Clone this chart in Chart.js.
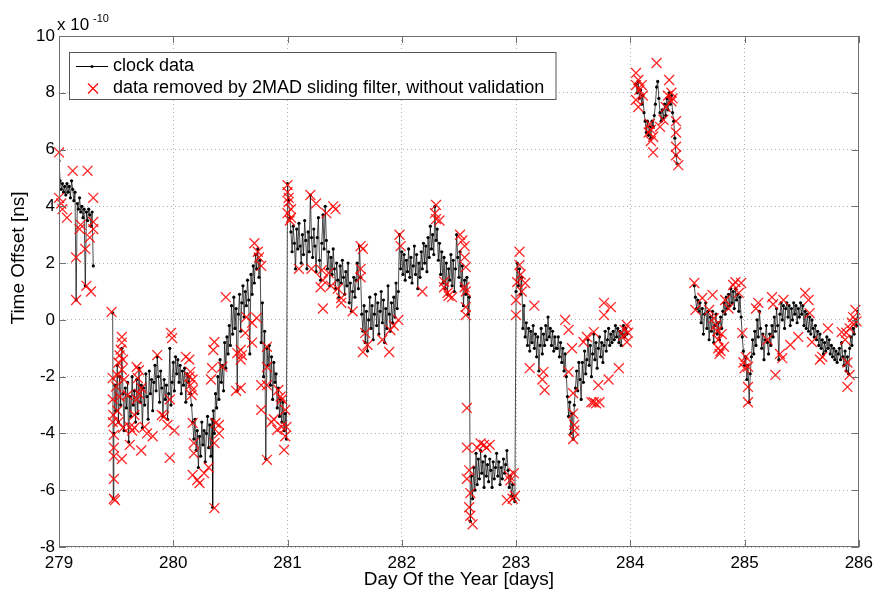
<!DOCTYPE html>
<html>
<head>
<meta charset="utf-8">
<script src="https://cdn.jsdelivr.net/npm/chart.js@4.4.1/dist/chart.umd.min.js"></script>
<style>
  body { margin: 0; background: #fff; }
  #wrap { width: 879px; height: 594px; }
</style>
</head>
<body>
<div id="wrap"><canvas id="clock-chart"></canvas></div>
<script>
const xTicks = [279, 280, 281, 282, 283, 284, 285, 286];
const yTicks = [-8, -6, -4, -2, 0, 2, 4, 6, 8, 10];

// clock data, [day, offset x 1e-10], one array per unbroken run of the line
const clockRun1 = [
  [279.00,5.6],[279.01,4.9],[279.02,4.6],[279.03,4.8],[279.04,4.5],[279.05,4.7],[279.06,4.4],[279.07,4.8],
  [279.08,4.5],[279.09,4.7],[279.10,4.3],[279.11,4.9],[279.12,4.6],[279.13,4.2],[279.14,4.5],[279.15,0.7],
  [279.16,4.1],[279.17,3.9],[279.18,4.3],[279.19,3.8],[279.20,4.0],[279.21,3.6],[279.22,3.9],[279.23,1.2],
  [279.24,3.8],[279.25,3.5],[279.26,3.9],[279.27,3.7],[279.28,3.3],[279.29,3.8],[279.30,1.9]
];
const clock279 = [
  [279.47,0.25],[279.475,-6.3],[279.48,-4.0],[279.49,-2.3],[279.50,-3.2],[279.51,-1.6],[279.52,-3.6],[279.53,-2.0],
  [279.54,-3.0],[279.55,-1.0],[279.56,-2.6],[279.57,-3.9],[279.58,-2.4],[279.59,-3.1],[279.60,-2.2],[279.61,-4.3],
  [279.62,-2.7],[279.63,-3.4],[279.64,-2.0],[279.65,-3.0],[279.66,-2.5],[279.67,-3.6],[279.68,-2.1],[279.69,-3.3],
  [279.70,-1.7],[279.71,-2.9],[279.72,-2.3],[279.73,-3.8],[279.74,-2.4],[279.75,-3.0],[279.76,-1.9],[279.77,-2.7],
  [279.78,-3.5],[279.79,-1.8],[279.80,-2.6],[279.81,-2.1],[279.82,-3.2],[279.83,-2.2],[279.84,-1.6],[279.85,-2.5],
  [279.86,-1.3],[279.87,-2.0],[279.88,-2.9],[279.89,-1.8],[279.90,-2.4],[279.91,-3.4],[279.92,-2.1],[279.93,-2.8],
  [279.94,-2.3],[279.95,-3.5],[279.96,-2.6],[279.97,-1.0],[279.98,-3.0],[279.99,-2.2]
];
const clock280 = [
  [280.00,-1.5],[280.01,-2.5],[280.02,-1.3],[280.03,-1.9],[280.04,-1.4],[280.05,-2.2],[280.06,-1.6],[280.07,-2.6],
  [280.08,-1.8],[280.09,-2.3],[280.10,-1.7],[280.11,-2.9],[280.12,-1.9],[280.13,-2.2],[280.14,-2.0],[280.15,-2.6],
  [280.16,-3.0],[280.17,-3.6],[280.18,-4.2],[280.19,-3.5],[280.20,-4.6],[280.21,-3.9],[280.22,-5.2],[280.23,-4.1],
  [280.24,-4.8],[280.25,-3.6],[280.26,-4.4],[280.27,-3.9],[280.28,-5.0],[280.29,-4.0],[280.30,-3.4],[280.31,-4.5],
  [280.32,-3.7],[280.33,-4.8],[280.34,-3.5],[280.345,-6.6],[280.35,-3.2],[280.36,-4.0],[280.37,-2.6],[280.38,-3.1],
  [280.39,-2.0],[280.40,-2.8],[280.41,-1.4],[280.42,-2.2],[280.43,-1.6],[280.44,-2.5],[280.45,-0.8],[280.46,-1.7],
  [280.47,-0.6],[280.48,-1.2],[280.49,-0.2],[280.50,-0.9],[280.51,0.5],[280.52,-0.5],[280.53,0.8],[280.54,-0.3],
  [280.55,0.4],[280.56,-2.5],[280.57,0.2],[280.58,0.9],[280.59,-0.4],[280.60,0.6],[280.61,1.2],[280.62,0.1],
  [280.63,1.0],[280.64,0.5],[280.65,1.4],[280.66,0.7],[280.67,-1.2],[280.68,1.6],[280.69,0.9],[280.70,1.9],
  [280.71,1.3],[280.72,2.3],[280.73,1.8],[280.74,2.5],[280.75,1.5],[280.76,2.1],[280.77,-0.8],[280.78,0.6],
  [280.79,-2.0],[280.80,-0.4],[280.81,-4.9],[280.82,-1.0],[280.83,-1.6],[280.84,-0.9],[280.85,-2.3],[280.86,-1.3],
  [280.87,-2.8],[280.88,-1.5],[280.89,-2.2],[280.90,-1.9],[280.91,-3.1],[280.92,-2.4],[280.93,-3.4],[280.94,-2.8],
  [280.95,-3.6],[280.96,-2.9],[280.97,-3.9],[280.98,-3.3],[280.99,-4.2]
];
const clock281 = [
  [281.00,4.8],[281.01,4.2],[281.02,3.6],[281.03,3.1],[281.04,2.4],[281.05,3.3],[281.06,2.7],[281.07,1.8],
  [281.08,3.2],[281.09,2.5],[281.10,3.4],[281.11,2.6],[281.12,2.0],[281.13,3.0],[281.14,2.3],[281.15,3.5],
  [281.16,2.8],[281.17,1.8],[281.18,3.1],[281.19,2.4],[281.20,4.4],[281.21,2.9],[281.22,2.2],[281.23,3.2],
  [281.24,2.6],[281.25,1.7],[281.26,2.9],[281.27,3.6],[281.28,2.1],[281.29,1.4],[281.30,2.7],[281.31,3.7],
  [281.32,2.5],[281.33,4.0],[281.34,2.8],[281.35,1.8],[281.36,2.4],[281.37,1.2],[281.38,2.2],[281.39,1.6],
  [281.40,2.5],[281.41,1.8],[281.42,1.1],[281.43,2.0],[281.44,1.4],[281.45,0.8],[281.46,1.9],[281.47,1.3],
  [281.48,2.1],[281.49,1.5],[281.50,0.9],[281.51,1.7],[281.52,1.2],[281.53,2.0],[281.54,0.6],[281.55,1.3],
  [281.56,0.3],[281.57,1.0],[281.58,1.5],[281.59,0.8],[281.60,1.4],[281.61,2.0],[281.62,1.1],[281.63,2.6],
  [281.64,1.5],[281.65,0.2],[281.66,-0.4],[281.67,0.5],[281.68,-0.8],[281.69,0.3],[281.70,-1.1],[281.71,0.0],
  [281.72,0.8],[281.73,-0.3],[281.74,0.5],[281.75,-0.7],[281.76,0.2],[281.77,0.9],[281.78,-0.2],[281.79,0.6],
  [281.80,-0.5],[281.81,0.3],[281.82,1.0],[281.83,-0.1],[281.84,0.7],[281.85,-0.8],[281.86,0.4],[281.87,-0.3],
  [281.88,1.2],[281.89,0.2],[281.90,-0.4],[281.91,0.6],[281.92,-0.1],[281.93,0.8],[281.94,0.1],[281.95,1.3],
  [281.96,0.4],[281.97,1.0],[281.98,3.0],[281.99,1.8]
];
const clock282 = [
  [282.00,2.4],[282.01,1.6],[282.02,2.3],[282.03,1.4],[282.04,2.1],[282.05,1.7],[282.06,2.5],[282.07,1.5],
  [282.08,2.2],[282.09,1.3],[282.10,1.9],[282.11,2.6],[282.12,1.6],[282.13,2.3],[282.14,1.1],[282.15,2.0],
  [282.16,1.5],[282.17,2.4],[282.18,1.8],[282.19,2.7],[282.20,2.0],[282.21,2.6],[282.22,1.7],[282.23,2.9],
  [282.24,2.2],[282.25,3.3],[282.26,2.5],[282.27,3.0],[282.28,2.3],[282.29,4.0],[282.30,2.8],[282.31,3.2],
  [282.32,2.1],[282.33,2.7],[282.34,1.6],[282.35,2.4],[282.36,1.3],[282.37,2.2],[282.38,1.1],[282.39,2.0],
  [282.40,0.9],[282.41,1.8],[282.42,1.4],[282.43,2.3],[282.44,1.2],[282.45,2.1],[282.46,1.0],[282.47,1.8],
  [282.48,3.0],[282.49,2.2],[282.50,1.5],[282.51,2.4],[282.52,1.2],[282.53,1.9],[282.54,0.5],[282.55,1.4],
  [282.56,0.9],[282.57,1.5],[282.58,0.2],[282.59,0.8],
  [282.60,-7.1],[282.61,-5.5],[282.62,-6.3],[282.63,-5.2],[282.64,-6.0],[282.65,-4.7],[282.66,-5.8],[282.67,-4.9],
  [282.68,-5.6],[282.69,-4.6],[282.70,-5.4],[282.71,-5.0],[282.72,-5.9],[282.73,-4.8],[282.74,-5.5],[282.75,-5.1],
  [282.76,-5.7],[282.77,-4.9],[282.78,-5.3],[282.79,-5.9],[282.80,-5.0],[282.81,-5.6],[282.82,-5.2],[282.83,-4.7],
  [282.84,-5.5],[282.85,-5.0],[282.86,-5.8],[282.87,-5.2],[282.88,-5.6],[282.89,-4.9],[282.90,-5.4],[282.91,-5.1],
  [282.92,-4.6],[282.93,-5.3],[282.94,-5.9],[282.95,-5.5],[282.96,-6.2],[282.97,-5.8],[282.98,-6.3],[282.99,-6.4]
];
const clock283 = [
  [283.00,1.0],[283.01,2.0],[283.02,1.2],[283.03,1.8],[283.04,0.9],[283.05,1.5],[283.06,-0.3],[283.07,0.5],
  [283.08,-0.6],[283.09,-0.1],[283.10,-0.9],[283.11,-0.3],[283.12,-1.1],[283.13,-0.4],[283.14,-0.8],[283.15,-0.2],
  [283.16,-1.0],[283.17,-0.5],[283.18,-1.3],[283.19,-0.6],[283.20,-1.8],[283.21,-0.9],[283.22,-0.3],[283.23,-1.2],
  [283.24,-0.5],[283.25,-0.9],[283.26,-0.2],[283.27,-0.7],[283.28,0.1],[283.29,-0.6],[283.30,-0.3],[283.31,-0.9],
  [283.32,-0.4],[283.33,-1.1],[283.34,-0.6],[283.35,-1.0],[283.36,-1.0],[283.37,-0.6],[283.38,-1.3],[283.39,-0.8],
  [283.40,-1.5],[283.41,-1.0],[283.42,-1.8],[283.43,-1.2],[283.44,-2.0],[283.45,-2.7],[283.46,-3.4],[283.47,-2.9],
  [283.48,-4.0],[283.49,-3.3],[283.50,-4.2],[283.51,-3.0],[283.52,-2.4],[283.53,-1.8],[283.54,-2.5],[283.55,-1.5],
  [283.56,-2.1],[283.57,-2.8],[283.58,-1.5],[283.59,-2.2],[283.60,-1.1],[283.61,-1.9],[283.62,-1.4],[283.63,-0.7],
  [283.64,-1.6],[283.65,-0.9],[283.66,-2.0],[283.67,-1.2],[283.68,-0.5],[283.69,-1.4],[283.70,-0.8],[283.71,-1.7],
  [283.72,-1.0],[283.73,-0.6],[283.74,-1.3],[283.75,-0.8],[283.76,-1.5],[283.77,-0.9],[283.78,-0.4],[283.79,-1.1],
  [283.80,-0.7],[283.81,-0.3],[283.82,-0.9],[283.83,-0.5],[283.84,-0.8],[283.85,-0.4],[283.86,-0.7],[283.87,-0.2],
  [283.88,-0.6],[283.89,-0.3],[283.90,-0.8],[283.91,-0.4],[283.92,-0.9],[283.93,-0.5],[283.94,-0.2],[283.95,-0.6],
  [283.96,-0.3],[283.97,-0.5]
];
const clockRun3 = [
  [284.05,8.3],[284.06,8.0],[284.07,8.4],[284.08,7.8],[284.09,8.1],[284.10,7.6],[284.11,7.9],[284.12,7.3],
  [284.13,7.0],[284.14,6.6],[284.15,7.0],[284.16,6.5],[284.17,6.8],[284.18,6.4],[284.19,7.0],[284.20,6.8],
  [284.21,7.2],[284.22,7.6],[284.23,8.2],[284.24,8.4],[284.25,7.8],[284.26,7.3],[284.27,7.0],[284.28,7.4],
  [284.29,7.1],[284.30,7.6],[284.31,7.2],[284.32,7.8],[284.33,7.4],[284.34,8.0],[284.35,7.6],[284.36,7.9],
  [284.37,7.3],[284.38,7.0],[284.39,6.4],[284.40,5.8],[284.41,5.5]
];
const clockRun4 = [
  [284.56,1.2],[284.57,0.8],[284.58,0.4],[284.59,0.7],[284.60,0.3],[284.61,0.6],[284.62,-0.1],[284.63,0.4],
  [284.64,-0.5],[284.65,0.2],[284.66,0.6],[284.67,-0.3],[284.68,0.3],[284.69,-0.7],[284.70,0.1],[284.71,-0.4],
  [284.72,0.3],[284.73,-0.8],[284.74,-0.2],[284.75,0.2],[284.76,-0.5],[284.77,-0.1],[284.78,-0.7],[284.79,0.1],
  [284.80,-0.3],[284.81,0.3],[284.82,0.6],[284.83,0.2],[284.84,0.8],[284.85,0.4],[284.86,0.9],[284.87,0.5],
  [284.88,1.1],[284.89,0.6],[284.90,1.0],[284.91,0.4],[284.92,1.1],[284.93,0.7],[284.94,0.9],[284.95,0.3],
  [284.96,0.8],[284.97,0.1],[284.98,-0.6],[284.99,-1.1],[285.00,-1.6],[285.01,-1.3],[285.02,-2.1],[285.03,-1.6],
  [285.04,-2.9],[285.05,-1.9],[285.06,-1.3],[285.07,-0.7],[285.08,-1.2],[285.09,-0.4],[285.10,-0.9],[285.11,0.0],
  [285.12,-0.6],[285.13,0.3],[285.14,-0.3],[285.15,-1.0],[285.16,-0.5],[285.17,-1.4],[285.18,-0.7],[285.19,-0.2],
  [285.20,-0.8],[285.21,-1.2],[285.22,-0.5],[285.23,-0.9],[285.24,-0.2],[285.25,-0.6],[285.26,0.1],[285.27,-0.4],
  [285.28,0.4],[285.29,-0.2],[285.30,-1.4],[285.31,0.2],[285.32,0.6],[285.33,0.0],[285.34,0.5],[285.35,-0.3],
  [285.36,0.4],[285.37,0.6],[285.38,0.1],[285.39,0.5],[285.40,-0.2],[285.41,0.4],[285.42,0.0],[285.43,0.6],
  [285.44,0.2],[285.45,0.5],[285.46,-0.1],[285.47,0.4],[285.48,0.1],[285.49,0.6],[285.50,0.2],[285.51,0.5],
  [285.52,-0.2],[285.53,0.3],[285.54,-0.3],[285.55,0.2],[285.56,-0.4],[285.57,0.1],[285.58,-0.5],[285.59,0.0],
  [285.60,-0.3],[285.61,-0.6],[285.62,-0.2],[285.63,-0.7],[285.64,-0.4],[285.65,-0.9],[285.66,-0.5],[285.67,-1.0],
  [285.68,-0.7],[285.69,-1.2],[285.70,-0.8],[285.71,-1.1],[285.72,-0.6],[285.73,-1.0],[285.74,-0.7],[285.75,-1.2],
  [285.76,-0.9],[285.77,-1.3],[285.78,-1.0],[285.79,-1.4],[285.80,-1.1],[285.81,-1.5],[285.82,-1.2],[285.83,-1.0],
  [285.84,-1.4],[285.85,-0.8],[285.86,-1.3],[285.87,-1.6],[285.88,-1.1],[285.89,-1.8],[285.90,-1.3],[285.91,-1.9],
  [285.92,-1.0],[285.93,-0.6],[285.94,-0.9],[285.95,-0.3],[285.96,-0.5],[285.97,0.0],[285.98,-0.2],[285.99,0.3],
  [286.00,0.1]
];

// points removed by the 2MAD sliding filter
const removed279 = [
  [279.00,5.9],[279.00,4.3],[279.02,4.1],[279.03,3.9],[279.07,3.6],[279.12,5.25],[279.15,2.2],[279.15,0.7],
  [279.18,3.2],[279.19,3.35],[279.23,2.5],[279.24,1.2],[279.25,5.25],[279.27,2.9],[279.28,1.0],[279.30,3.45],
  [279.30,3.2],[279.30,4.3],[279.46,0.28],
  [279.47,-2.05],[279.47,-2.8],[279.475,-3.35],[279.47,-3.6],[279.48,-4.05],[279.48,-4.5],[279.48,-4.8],
  [279.48,-5.6],[279.48,-6.3],[279.49,-6.35],
  [279.55,-0.6],[279.55,-0.8],[279.54,-1.05],[279.53,-1.25],[279.56,-1.4],[279.52,-1.5],[279.55,-1.75],
  [279.51,-1.95],[279.57,-2.1],[279.50,-2.35],[279.53,-2.7],[279.51,-3.2],[279.52,-3.6],[279.56,-3.8],[279.55,-4.9],
  [279.60,-2.65],[279.62,-3.77],[279.64,-3.9],[279.68,-1.66],[279.70,-1.77],[279.69,-2.05],[279.70,-2.6],
  [279.72,-2.4],[279.68,-2.8],[279.66,-3.35],[279.66,-3.8],[279.72,-4.6],[279.75,-3.77],[279.77,-4.0],
  [279.82,-4.1],[279.62,-4.4],
  [279.86,-1.24],[279.90,-3.35],[279.92,-3.4],[279.95,-3.7],[279.97,-4.86],[279.97,-2.8],[279.98,-0.46],[279.99,-0.64]
];
const removed280 = [
  [280.01,-3.9],[280.11,-1.3],[280.14,-1.4],[280.15,-1.83],[280.14,-2.0],[280.17,-2.1],[280.17,-2.47],
  [280.16,-2.65],[280.15,-2.3],[280.17,-3.63],[280.18,-4.34],[280.18,-4.7],[280.17,-5.46],[280.21,-5.64],
  [280.23,-5.75],[280.27,-5.4],[280.31,-5.2],
  [280.36,-6.63],[280.36,-4.34],[280.37,-3.63],[280.40,-3.7],[280.40,-4.0],[280.33,-2.1],[280.34,-1.7],
  [280.35,-1.06],[280.36,-0.78],[280.43,-1.65],[280.46,0.8],
  [280.55,-2.5],[280.59,-2.4],[280.56,-1.17],[280.59,-1.06],[280.60,-1.24],[280.59,-1.4],[280.63,-0.46],
  [280.64,0.1],[280.69,-0.1],[280.73,0.07],[280.69,-0.8],
  [280.71,2.7],[280.74,2.4],[280.75,2.2],[280.77,1.9],
  [280.77,-2.3],[280.82,-2.3],[280.77,-3.17],[280.82,-4.93],[280.82,-1.66],[280.82,-0.95],[280.86,-3.6],
  [280.88,-3.5],[280.92,-2.47],[280.91,-3.87],[280.94,-2.7],[280.95,-2.8],[280.98,-3.17],[280.95,-3.77],
  [280.99,-3.77],[280.97,-4.58],[280.98,-4.1]
];
const removed281 = [
  [281.00,4.75],[281.00,4.5],[281.01,4.15],[281.03,3.9],[281.00,3.76],[281.03,3.6],[281.01,4.3],[281.02,3.5],
  [281.20,4.4],[281.25,4.1],[281.34,3.76],[281.40,4.0],[281.42,3.9],
  [281.10,1.8],[281.21,1.8],[281.30,1.75],[281.31,1.4],[281.36,1.65],[281.29,1.15],[281.38,1.2],[281.44,1.1],
  [281.31,0.4],[281.47,0.77],[281.47,0.6],[281.57,0.3],
  [281.64,2.6],[281.64,1.8],[281.66,2.5],[281.64,1.5],
  [281.68,-0.46],[281.66,-1.13],[281.70,-0.88],[281.83,-0.7],[281.89,-1.13],[281.90,-0.36],[281.97,0.0],
  [281.93,-0.2],[281.98,3.0],[281.99,2.6]
];
const removed282 = [
  [282.30,4.05],[282.29,3.76],[282.30,3.55],[282.33,3.5],[282.18,1.0],[282.37,1.35],[282.40,0.95],[282.44,0.8],
  [282.37,1.15],[282.41,0.85],
  [282.51,3.0],[282.53,2.8],[282.55,2.6],[282.55,2.2],[282.56,1.86],[282.55,1.15],[282.56,1.0],[282.56,0.45],
  [282.56,0.17],
  [282.57,-3.1],[282.57,-4.5],[282.59,-5.3],[282.57,-5.6],[282.60,-6.1],[282.59,-6.6],[282.60,-6.9],[282.62,-7.2],
  [282.66,-4.5],[282.69,-4.35],[282.72,-4.4],[282.74,-4.5],[282.77,-4.4],
  [282.94,-5.5],[282.98,-5.4],[282.95,-5.65],[282.92,-6.35],[282.97,-6.3],[282.99,-6.2]
];
const removed283 = [
  [283.03,2.4],[283.03,1.93],[283.01,1.33],[283.00,0.7],[283.00,0.17],[283.08,1.3],[283.05,1.0],[283.04,1.6],
  [283.16,0.5],[283.12,-1.7],[283.24,-1.83],[283.23,-2.1],[283.25,-2.47],
  [283.43,0.0],[283.46,-0.35],[283.49,-1.0],[283.46,-1.83],[283.50,-2.58],[283.50,-3.3],[283.51,-3.7],
  [283.51,-3.9],[283.50,-4.2],
  [283.59,-0.78],[283.62,-0.6],[283.68,-0.43],[283.68,-2.9],[283.70,-2.94],[283.72,-2.3],[283.73,-2.9],[283.66,-2.9],
  [283.77,0.6],[283.77,0.17],[283.83,0.45],[283.81,-2.1],[283.90,-1.7],
  [283.97,-0.18],[283.95,-0.35],[283.97,-0.78],[283.94,-0.55],[283.98,-0.45]
];
const removed284 = [
  [284.05,8.7],[284.07,8.45],[284.05,8.27],[284.10,8.27],[284.08,8.1],[284.05,7.75],[284.07,7.5],[284.11,7.9],
  [284.17,6.9],[284.18,6.7],[284.20,6.45],[284.18,6.3],[284.20,5.9],[284.16,6.6],
  [284.23,9.05],[284.29,7.05],[284.26,6.8],
  [284.34,8.45],[284.36,8.0],[284.37,7.8],[284.33,7.9],[284.31,7.5],[284.36,7.7],
  [284.40,7.0],[284.40,6.6],[284.40,6.1],[284.40,5.8],[284.42,5.45]
];
const removed285 = [
  [284.56,1.3],[284.57,0.35],[284.63,0.77],[284.72,0.88],[284.69,0.35],[284.73,0.06],[284.75,-0.18],[284.77,-0.7],
  [284.77,-1.0],[284.82,-0.95],[284.80,-0.5],[284.76,-0.4],[284.78,-1.2],[284.79,-1.1],
  [284.83,0.7],[284.86,0.4],[284.90,1.23],[284.92,1.33],[284.97,1.3],[284.95,0.95],
  [285.01,-1.3],[284.99,-1.5],[285.03,-1.65],[285.03,-2.36],[285.03,-2.9],[284.98,-0.46],[285.00,-1.7],
  [285.12,0.6],[285.10,0.4],[285.20,-0.7],[285.27,-1.94],[285.24,0.8],[285.25,0.55],[285.34,0.7],[285.31,-1.2],
  [285.33,-1.35],
  [285.40,-0.88],[285.47,-0.6],[285.53,0.95],[285.56,0.7],[285.57,0.24],[285.59,-0.78],[285.68,-1.3],[285.66,-1.4],
  [285.73,-0.3],
  [285.85,-0.43],[285.89,-0.45],[285.88,-0.7],[285.90,-1.5],[285.92,-1.94],[285.90,-2.36],[285.95,0.1],
  [285.97,0.35],[285.94,-0.1],[285.98,-0.05],[285.92,-0.3]
];

const clockRuns = [
  [clockRun1],
  [clock279, clock280, clock281, clock282, clock283],
  [clockRun3],
  [clockRun4]
];
const removedDays = [removed279, removed280, removed281, removed282, removed283, removed284, removed285];

// join runs, with a null point between them so the line breaks
const clockPoints = [];
clockRuns.forEach((run, i) => {
  const pts = run.flat();
  if (i > 0) clockPoints.push({ x: pts[0][0] - 0.005, y: null });
  pts.forEach(p => clockPoints.push({ x: p[0], y: p[1] }));
});
const removedPoints = removedDays.flat().map(p => ({ x: p[0], y: p[1] }));

const FONT = '"Liberation Sans", Arial, Helvetica, sans-serif';

const frameAndLegend = {
  id: 'frameAndLegend',
  afterDraw(chart) {
    const { ctx, chartArea: a, scales } = chart;
    ctx.save();
    // box
    ctx.strokeStyle = '#707070';
    ctx.lineWidth = 1;
    ctx.strokeRect(Math.round(a.left) + 0.5, Math.round(a.top) + 0.5,
      Math.round(a.right - a.left) - 1, Math.round(a.bottom - a.top) - 1);
    // inward ticks
    ctx.beginPath();
    xTicks.forEach(v => {
      const px = Math.round(scales.x.getPixelForValue(v)) + 0.5;
      ctx.moveTo(px, a.bottom); ctx.lineTo(px, a.bottom - 7);
      ctx.moveTo(px, a.top); ctx.lineTo(px, a.top + 7);
    });
    yTicks.forEach(v => {
      const py = Math.round(scales.y.getPixelForValue(v)) + 0.5;
      ctx.moveTo(a.left, py); ctx.lineTo(a.left + 7, py);
      ctx.moveTo(a.right, py); ctx.lineTo(a.right - 7, py);
    });
    ctx.stroke();

    // legend
    ctx.font = '18px ' + FONT;
    const t1 = 'clock data';
    const t2 = 'data removed by 2MAD sliding filter, without validation';
    const bx = 69.5, by = 52.5;
    const bw = Math.max(556 - bx, 113 - bx + ctx.measureText(t2).width + 8);
    ctx.fillStyle = '#fff';
    ctx.fillRect(bx, by, bw, 47);
    ctx.strokeStyle = '#555';
    ctx.strokeRect(bx, by, bw, 47);
    ctx.strokeStyle = '#000';
    ctx.beginPath();
    ctx.moveTo(76, 66.5); ctx.lineTo(108, 66.5);
    ctx.stroke();
    ctx.fillStyle = '#000';
    ctx.beginPath(); ctx.arc(92, 66.5, 1.5, 0, Math.PI * 2); ctx.fill();
    ctx.strokeStyle = '#ff0000';
    ctx.lineWidth = 1.2;
    ctx.beginPath();
    ctx.moveTo(88, 83.5); ctx.lineTo(98, 93.5);
    ctx.moveTo(98, 83.5); ctx.lineTo(88, 93.5);
    ctx.stroke();
    ctx.fillStyle = '#000';
    ctx.textBaseline = 'middle';
    ctx.fillText(t1, 113, 66);
    ctx.fillText(t2, 113, 88);

    // exponent label
    ctx.textBaseline = 'alphabetic';
    ctx.font = '17px ' + FONT;
    ctx.fillText('x 10', 57, 30);
    ctx.font = '11px ' + FONT;
    ctx.fillText('-10', 93, 22);

    // axis titles
    ctx.font = '19px ' + FONT;
    ctx.textAlign = 'center';
    ctx.textBaseline = 'middle';
    ctx.fillText('Day Of the Year [days]', (a.left + a.right) / 2, 580);
    ctx.translate(19, 258);
    ctx.rotate(-Math.PI / 2);
    ctx.fillText('Time Offset [ns]', 0, 0);
    ctx.restore();
  }
};

const gridOpts = { color: '#b0b0b0', lineWidth: 1, drawTicks: false };
const borderOpts = { display: false, dash: [1, 3] };

new Chart(document.getElementById('clock-chart'), {
  type: 'line',
  data: {
    datasets: [
      {
        label: 'data removed by 2MAD sliding filter, without validation',
        data: removedPoints,
        showLine: false,
        pointStyle: 'crossRot',
        pointRadius: 7,
        pointBorderWidth: 1.3,
        pointBorderColor: 'rgba(255,0,0,0.85)',
        pointBackgroundColor: 'rgba(255,0,0,0.85)',
        clip: false,
        order: 0
      },
      {
        label: 'clock data',
        data: clockPoints,
        borderColor: 'rgba(0,0,0,0.7)',
        borderWidth: 1,
        pointRadius: 1.6,
        pointBorderWidth: 0,
        pointBackgroundColor: '#000',
        tension: 0,
        spanGaps: false,
        order: 1
      }
    ]
  },
  options: {
    responsive: true,
    maintainAspectRatio: false,
    animation: false,
    events: [],
    layout: { padding: { top: 36, right: 15, left: 0, bottom: 0 } },
    plugins: { legend: { display: false }, tooltip: { enabled: false } },
    scales: {
      x: {
        type: 'linear',
        min: 279, max: 286,
        afterFit: s => { s.height = 47; },
        afterBuildTicks: s => { s.ticks = xTicks.map(v => ({ value: v })); },
        grid: gridOpts,
        border: borderOpts,
        ticks: { color: '#000', padding: 6, font: { family: FONT, size: 17 }, maxRotation: 0 }
      },
      y: {
        min: -8, max: 10,
        afterFit: s => { s.width = 59; },
        afterBuildTicks: s => { s.ticks = yTicks.map(v => ({ value: v })); },
        grid: gridOpts,
        border: borderOpts,
        ticks: { color: '#000', padding: 4, font: { family: FONT, size: 17 } }
      }
    }
  },
  plugins: [frameAndLegend]
});
</script>
</body>
</html>
